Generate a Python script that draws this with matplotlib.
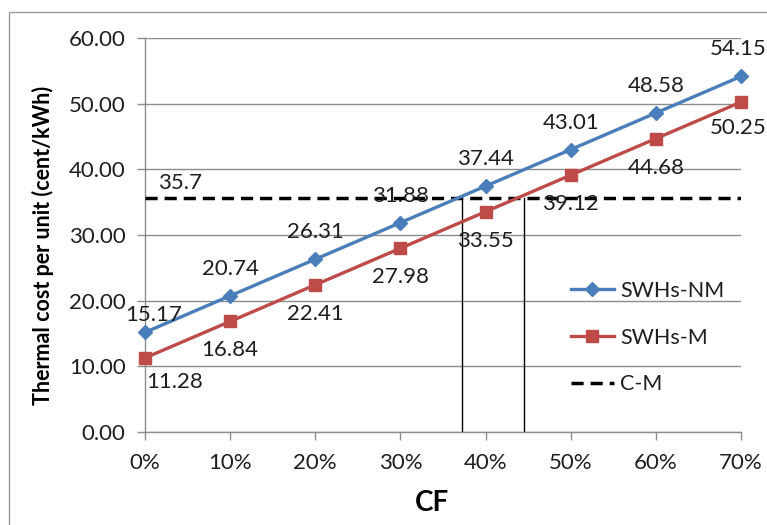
"""
Thermal cost per unit vs CF, SWHs-NM / SWHs-M against the C-M reference level.
"""

import matplotlib
matplotlib.use('Agg')
import matplotlib.pyplot as plt
from matplotlib.patches import Rectangle

plt.rcParams['font.family'] = ['Lato', 'DejaVu Sans']

# ------------------------------------------------------------------
# Data
# ------------------------------------------------------------------
cf_values = [0, 10, 20, 30, 40, 50, 60, 70]
cf_labels = ['0%', '10%', '20%', '30%', '40%', '50%', '60%', '70%']
cost_nm = [15.17, 20.74, 26.31, 31.88, 37.44, 43.01, 48.58, 54.15]
cost_m = [11.28, 16.84, 22.41, 27.98, 33.55, 39.12, 44.68, 50.25]
cost_cm = 35.7
crossings = [37.2, 44.5]

yticks = [0, 10, 20, 30, 40, 50, 60]

# Label offsets in pixels (dx, dy) relative to each point
nm_offsets = [(9, 17)] + [(0, 27)] * 6 + [(-3, 27)]
m_offsets = [(30, -24)] + [(0, -29)] * 6 + [(-3, -26)]

PX = 0.72  # points per pixel at dpi=100
BLUE = '#4a7ebb'
RED = '#be4b48'
GRID = '#8c8c8c'
TXT = '#1e1e1e'
FS = 16

fig = plt.figure(figsize=(7.67, 5.25), dpi=100)
ax = fig.add_axes([145 / 767, 1 - 432 / 525, 596 / 767, 394 / 525])

# outer chart frame
fig.patches.append(Rectangle((9 / 767, -0.2), 1.2, 1 - 12 / 525 + 0.2,
                             transform=fig.transFigure, fill=False,
                             edgecolor='#9a9a9a', linewidth=1.0, zorder=0))

ax.set_ylim(0, 60)
ax.set_xlim(0, 70)
ax.set_yticks(yticks)
ax.set_yticklabels([f'{v:.2f}' for v in yticks])
ax.set_xticks(cf_values)
ax.set_xticklabels(cf_labels)
ax.yaxis.grid(True, color=GRID, linewidth=1.0)
ax.set_axisbelow(True)

for side in ['top', 'right']:
    ax.spines[side].set_visible(False)
for side in ['left', 'bottom']:
    ax.spines[side].set_color(GRID)
    ax.spines[side].set_linewidth(1.0)
ax.tick_params(axis='both', direction='out', length=6, width=1.0, color=GRID,
               labelsize=FS, labelcolor=TXT)
ax.tick_params(axis='y', pad=8)
ax.tick_params(axis='x', pad=9)

# vertical markers for the crossings
for xc in crossings:
    ax.plot([xc, xc], [0, cost_cm], color='black', linewidth=1.0, zorder=2)

ax.plot(cf_values, cost_nm, color=BLUE, linewidth=2.4, marker='D', markersize=7.5,
        label='SWHs-NM', zorder=4, clip_on=False)
ax.plot(cf_values, cost_m, color=RED, linewidth=2.4, marker='s', markersize=8.5,
        label='SWHs-M', zorder=4, clip_on=False)
ax.plot([cf_values[0], cf_values[-1]], [cost_cm, cost_cm], color='black',
        linewidth=2.5, linestyle=(0, (3.5, 2)), label='C-M', zorder=3)

for x, y, (dx, dy) in zip(cf_values, cost_nm, nm_offsets):
    ax.annotate(f'{y:.2f}', (x, y), xytext=(dx * PX, dy * PX),
                textcoords='offset points', ha='center', va='center',
                fontsize=FS, color=TXT, annotation_clip=False, zorder=5)
for x, y, (dx, dy) in zip(cf_values, cost_m, m_offsets):
    ax.annotate(f'{y:.2f}', (x, y), xytext=(dx * PX, dy * PX),
                textcoords='offset points', ha='center', va='center',
                fontsize=FS, color=TXT, annotation_clip=False, zorder=5)
ax.annotate(f'{cost_cm}', (1.5, cost_cm), xytext=(0, 15 * PX),
            textcoords='offset points', ha='left', va='center',
            fontsize=FS, color=TXT)

leg = ax.legend(loc='upper left', bbox_to_anchor=(417 / 596, 160 / 394),
                frameon=False, fontsize=15.5, handlelength=2.0,
                handletextpad=0.3, labelspacing=1.25, borderaxespad=0)
for t in leg.get_texts():
    t.set_color(TXT)

fig.text(43 / 767, 1 - 245 / 525, 'Thermal cost per unit (cent/kWh)',
         rotation=90, ha='center', va='center', fontsize=15.5,
         fontweight='bold', color='black')
fig.text(432 / 767, 1 - 503 / 525, 'CF', ha='center', va='center',
         fontsize=20, fontweight='bold', color='black')

fig.savefig('out.png', dpi=100)
